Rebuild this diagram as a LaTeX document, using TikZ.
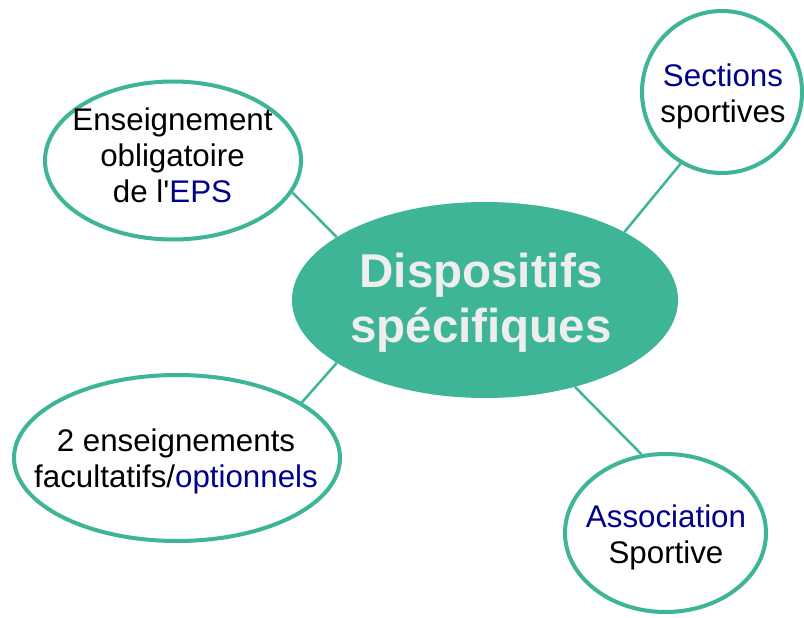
\documentclass[tikz,border=0pt]{standalone}
\usepackage{fontspec}
\setmainfont{Liberation Sans}[Ligatures=TeXOff]
\usetikzlibrary{shapes.geometric}
\definecolor{teal1}{RGB}{61,181,150}
\definecolor{navy1}{RGB}{0,0,140}
\definecolor{pale}{RGB}{238,238,238}
\begin{document}
\begin{tikzpicture}[x=1pt,y=-1pt,
 bubble/.style={ellipse,draw=teal1,line width=4pt,fill=white,inner sep=0pt},
 lbl/.style={align=center,font=\fontsize{31.3}{36}\selectfont,inner sep=0pt},
 link/.style={draw=teal1,line width=2.5pt}]
\useasboundingbox[fill=white] (0,0) rectangle (804,618);
% shapes
\node[ellipse,fill=teal1,inner sep=0pt,minimum width=386pt,minimum height=196pt] (c) at (485,300) {};
\node[bubble,minimum width=256pt,minimum height=158pt] (tl) at (173,160.5) {};
\node[bubble,minimum width=160pt,minimum height=162pt] (tr) at (722,92) {};
\node[bubble,minimum width=326pt,minimum height=166pt] (bl) at (177,458) {};
\node[bubble,minimum width=201pt,minimum height=158pt] (br) at (665.5,533) {};
% connectors
\draw[link] (tl.-15) -- (c.157);
\draw[link] (tr.-120) -- (c.26);
\draw[link] (c.203) -- (bl.24);
\draw[link] (c.-44) -- (br.107);
% texts
\node[align=center,inner sep=0pt,text=pale,font=\fontsize{47.5}{55}\selectfont\bfseries] (ct) at (481,303) {Dispositifs\\spécifiques};
\node[lbl] (tlt) at (172.5,155.5) {Enseignement\\obligatoire\\de l'\textcolor{navy1}{EPS}};
\node[lbl] (trt) at (723,96.5) {\textcolor{navy1}{Sections}\\sportives};
\node[lbl] (blt) at (176,461.8) {2 enseignements\\facultatifs/\textcolor{navy1}{optionnels}};
\node[lbl] (brt) at (666,537.3) {\textcolor{navy1}{Association}\\Sportive};
\end{tikzpicture}
\end{document}
